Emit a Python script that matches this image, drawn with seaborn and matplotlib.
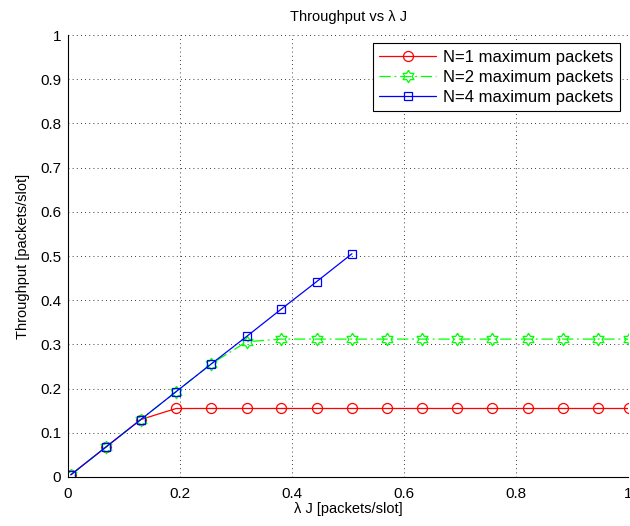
import numpy as np
import pandas as pd
import matplotlib
matplotlib.use("Agg")
import matplotlib.pyplot as plt
import seaborn as sns
from matplotlib.ticker import FuncFormatter

# ---- data ----
lamJ = [0.005, 0.068, 0.130, 0.193, 0.256, 0.319, 0.381, 0.444, 0.507,
        0.570, 0.633, 0.695, 0.758, 0.821, 0.884, 0.946, 1.002]
thr_n1 = [0.005, 0.068, 0.130, 0.155, 0.155, 0.155, 0.155, 0.155, 0.155,
          0.155, 0.155, 0.155, 0.155, 0.155, 0.155, 0.155, 0.155]
thr_n2 = [0.005, 0.068, 0.130, 0.193, 0.256, 0.306, 0.312, 0.312, 0.312,
          0.312, 0.312, 0.312, 0.312, 0.312, 0.312, 0.312, 0.312]
thr_n4 = [0.005, 0.068, 0.130, 0.193, 0.256, 0.318, 0.380, 0.442, 0.505]
labels = ["N=1 maximum packets", "N=2 maximum packets", "N=4 maximum packets"]
xticks = [0, 0.2, 0.4, 0.6, 0.8, 1]
yticks = [0, 0.1, 0.2, 0.3, 0.4, 0.5, 0.6, 0.7, 0.8, 0.9, 1]

sns.set_style("white")
plt.rcParams["font.family"] = ["Liberation Sans", "DejaVu Sans"]
plt.rcParams["text.color"] = "black"
plt.rcParams["axes.labelcolor"] = "black"
plt.rcParams["xtick.color"] = "black"
plt.rcParams["ytick.color"] = "black"

fig = plt.figure(figsize=(6.3, 5.26), dpi=100)
ax = fig.add_axes([68 / 630, 1 - 477 / 526, 560 / 630, 442 / 526])

# hexagram marker (star of David outline)
hexv = []
for k in range(12):
    ang = np.deg2rad(90 + 30 * k)
    r = 1.0 if k % 2 == 0 else 1 / np.sqrt(3)
    hexv.append((r * np.cos(ang), r * np.sin(ang)))
hexv.append(hexv[0])

df1 = pd.DataFrame({"x": lamJ, "y": thr_n1})
df2 = pd.DataFrame({"x": lamJ, "y": thr_n2})
df4 = pd.DataFrame({"x": lamJ[:len(thr_n4)], "y": thr_n4})

sns.lineplot(data=df1, x="x", y="y", ax=ax, color="#ff0000", lw=0.9,
             marker="o", markersize=7.2, markerfacecolor="none",
             markeredgecolor="#ff0000", markeredgewidth=0.9,
             label=labels[0])
sns.lineplot(data=df2, x="x", y="y", ax=ax, color="#00ff00", lw=0.9,
             linestyle=(0, (9, 3, 1.5, 3)),
             marker=hexv, markersize=9, markerfacecolor="none",
             markeredgecolor="#00ff00", markeredgewidth=0.9,
             label=labels[1])
sns.lineplot(data=df4, x="x", y="y", ax=ax, color="#0000ff", lw=0.9,
             marker="s", markersize=6, markerfacecolor="none",
             markeredgecolor="#0000ff", markeredgewidth=0.9,
             label=labels[2])

ax.set_xlim(0, 1)
ax.set_ylim(0, 1)
ax.set_xticks(xticks)
ax.set_yticks(yticks)
fmt = FuncFormatter(lambda v, p: "%g" % v)
ax.xaxis.set_major_formatter(fmt)
ax.yaxis.set_major_formatter(fmt)
ax.tick_params(direction="in", length=4, width=0.6, labelsize=11)
ax.tick_params(axis="x", pad=7)
ax.tick_params(axis="y", pad=5)
ax.grid(True, linestyle=(0, (1, 4)), color="black", linewidth=0.6)
for s in ["top", "right"]:
    ax.spines[s].set_visible(False)
for s in ["left", "bottom"]:
    ax.spines[s].set_color("black")
    ax.spines[s].set_linewidth(0.8)

ax.set_title("Throughput vs λ J", fontsize=10.5, pad=10)
ax.set_xlabel("λ J [packets/slot]", fontsize=10.5, labelpad=1)
ax.set_ylabel("Throughput [packets/slot]", fontsize=10.5, labelpad=7)

leg = ax.legend(loc="upper right", bbox_to_anchor=(0.986, 0.982),
                fontsize=12, frameon=True, fancybox=False, framealpha=1,
                edgecolor="black", handlelength=3.4, handletextpad=0.42,
                borderpad=0.4, labelspacing=0.3, borderaxespad=0)
leg.get_frame().set_linewidth(0.8)

fig.savefig("out.png", dpi=100)
